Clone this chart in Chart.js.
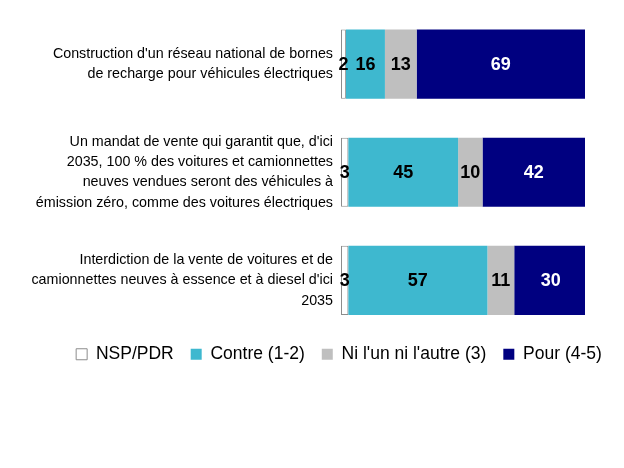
<!DOCTYPE html>
<html>
<head>
<meta charset="utf-8">
<script src="https://cdn.jsdelivr.net/npm/chart.js@4.4.1/dist/chart.umd.min.js"></script>
<style>
  html, body { margin: 0; padding: 0; background: #fff; }
  #wrap { width: 624px; height: 468px; }
</style>
</head>
<body>
<div id="wrap"><canvas id="chart" width="624" height="468"></canvas></div>
<script>
// categories (multi-line labels)
const categories = [
    ["Construction d'un réseau national de bornes", "de recharge pour véhicules électriques"],
    ["Un mandat de vente qui garantit que, d'ici", "2035, 100 % des voitures et camionnettes", "neuves vendues seront des véhicules à", "émission zéro, comme des voitures électriques"],
    ["Interdiction de la vente de voitures et de", "camionnettes neuves à essence et à diesel d'ici", "2035"]
];

// series
const seriesNames = ["NSP/PDR", "Contre (1-2)", "Ni l'un ni l'autre (3)", "Pour (4-5)"];
const nspValues = [2, 3, 3];
const contreValues = [16, 45, 57];
const niValues = [13, 10, 11];
const pourValues = [69, 42, 30];

const FONT = "'Liberation Sans', Arial, sans-serif";

// valeurs au centre des barres
const valueLabels = {
    id: 'valueLabels',
    afterDatasetsDraw(chart) {
        const ctx = chart.ctx;
        ctx.save();
        ctx.font = "bold 18px " + FONT;
        ctx.textAlign = 'center';
        ctx.textBaseline = 'middle';
        chart.data.datasets.forEach(function(ds, i) {
            const meta = chart.getDatasetMeta(i);
            meta.data.forEach(function(bar, j) {
                const cx = (bar.x + bar.base) / 2;
                ctx.fillStyle = ds.labelColor;
                ctx.fillText(String(ds.data[j]), cx, bar.y + 1);
            });
        });
        ctx.restore();
    }
};

// décale la légende (centrée un peu à droite, plus haut)
const legendOffset = {
    id: 'legendOffset',
    afterLayout(chart) {
        const lg = chart.legend;
        if (!lg) return;
        lg.left += 12; lg.right += 12;
        lg.top -= 6; lg.bottom -= 6;
    }
};

new Chart(document.getElementById('chart'), {
    type: 'bar',
    data: {
        labels: categories,
        datasets: [
            { label: seriesNames[0], data: nspValues, backgroundColor: '#ffffff', borderColor: '#8c8c8c', borderWidth: 1, borderSkipped: false, labelColor: '#000' },
            { label: seriesNames[1], data: contreValues, backgroundColor: '#3eb8cf', borderWidth: 0, labelColor: '#000' },
            { label: seriesNames[2], data: niValues, backgroundColor: '#bfbfbf', borderWidth: 0, labelColor: '#000' },
            { label: seriesNames[3], data: pourValues, backgroundColor: '#000080', borderWidth: 0, labelColor: '#fff' }
        ]
    },
    options: {
        indexAxis: 'y',
        responsive: false,
        animation: { duration: 0 },
        barPercentage: 0.64,
        categoryPercentage: 1,
        layout: { padding: { left: 30, right: 0, top: 10, bottom: 89 } },
        scales: {
            x: {
                stacked: true, min: 0, max: 100, display: false,
                grid: { display: false }
            },
            y: {
                stacked: true,
                grid: { display: false, drawTicks: false },
                border: { display: false },
                ticks: {
                    color: '#000',
                    padding: 8,
                    font: { family: FONT, size: 14.3, lineHeight: 1.43 }
                },
                afterFit: function(scale) {
                    scale.width = 341 - 30;
                    scale.paddingTop = 0;
                    scale.paddingBottom = 0;
                }
            },
            // marge droite
            yRight: {
                type: 'category',
                position: 'right',
                grid: { display: false, drawTicks: false },
                border: { display: false },
                ticks: { display: false },
                afterFit: function(scale) {
                    scale.width = 39;
                    scale.paddingTop = 0;
                    scale.paddingBottom = 0;
                }
            }
        },
        plugins: {
            legend: {
                position: 'bottom',
                labels: {
                    color: '#000',
                    boxWidth: 11,
                    boxHeight: 11,
                    padding: 17,
                    font: { family: FONT, size: 17.5 }
                }
            },
            tooltip: { enabled: false }
        }
    },
    plugins: [valueLabels, legendOffset]
});
</script>
</body>
</html>
